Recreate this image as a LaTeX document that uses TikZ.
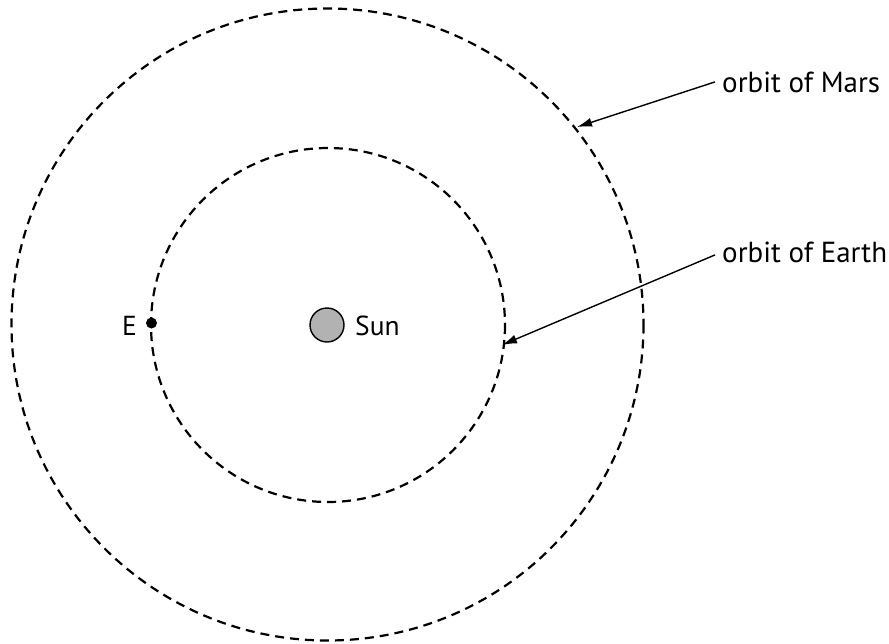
\documentclass[tikz,border=0pt]{standalone}
\usepackage{fontspec}
\setmainfont{PT Sans}
\usetikzlibrary{arrows.meta}
\begin{document}
\begin{tikzpicture}[x=1pt,y=-1pt,
  orbit/.style={draw=black, line width=2.2pt, dash pattern=on 9pt off 6pt},
  lbl/.style={inner sep=0pt, font=\fontsize{29}{33}\selectfont},
  biglbl/.style={inner sep=0pt, font=\fontsize{27.5}{31}\selectfont},
  pointer/.style={draw=black, line width=1.4pt, -{Latex[length=15pt,width=9pt]}}]
\useasboundingbox (0,0) rectangle (889,643);
% orbits
\draw[orbit] (327.5,324.5) circle[radius=316];
\draw[orbit] (328,325) circle[radius=177];
% sun
\node[circle, draw=black, line width=1.4pt, fill=black!30, minimum size=34pt, inner sep=0pt] (sun) at (327,325) {};
\node[biglbl, anchor=base west] (sunlbl) at (355,335) {Sun};
% earth
\node[circle, fill=black, minimum size=11pt, inner sep=0pt] (earth) at (151.5,323) {};
\node[biglbl, anchor=base east] (elbl) at (137,335) {E};
% labels
\node[lbl, anchor=base west] (mars) at (722,92) {orbit of Mars};
\node[lbl, anchor=base west] (earthorb) at (722,262) {orbit of Earth};
\coordinate (marstip) at (577,127);
\coordinate (earthtip) at (502,345);
\draw[pointer] ([xshift=-7pt,yshift=0pt]mars.west) -- (marstip);
\draw[pointer] ([xshift=-7pt,yshift=-3pt]earthorb.west) -- (earthtip);
\end{tikzpicture}
\end{document}
